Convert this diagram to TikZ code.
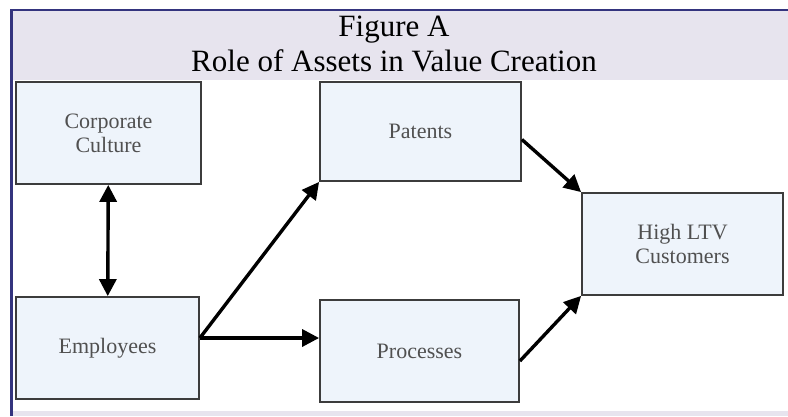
\documentclass[tikz,border=0pt]{standalone}
\usepackage{fontspec}
\setmainfont{Liberation Serif}
\usetikzlibrary{arrows.meta}
\definecolor{band}{HTML}{E7E4EE}
\definecolor{frame}{HTML}{34347E}
\definecolor{boxfill}{HTML}{EEF4FB}
\definecolor{boxline}{HTML}{3C3C3C}
\definecolor{boxtext}{HTML}{505050}
\begin{document}
\begin{tikzpicture}[x=1pt, y=-1pt,
    box/.style={draw=boxline, line width=1.8pt, fill=boxfill, text=boxtext,
                align=center, minimum height=102pt, inner sep=0pt,
                font=\fontsize{22}{24}\selectfont},
    link/.style={line width=3.4pt, -{Triangle[length=17pt,width=17pt]}}]
    \useasboundingbox (0,0) rectangle (788,416);
    % header band and frame
    \fill[band] (12,11) rectangle (788,80);
    \fill[band] (12,411) rectangle (788,416);
    \draw[frame, line width=2pt] (10,10) -- (788,10);
    \draw[frame, line width=3pt] (11,9) -- (11,416);
    \node[anchor=base, font=\fontsize{31}{35}\selectfont] (title) at (394,36) {Figure A};
    \node[anchor=base, font=\fontsize{31}{35}\selectfont] (subtitle) at (394,71) {Role of Assets in Value Creation};
    % boxes
    \node[box, minimum width=185pt] (culture) at (108.5,133) {Corporate\\Culture};
    \node[box, minimum width=183pt] (emp) at (107.5,348) {\raisebox{5pt}{Employees}};
    \node[box, minimum width=201pt, minimum height=99pt] (pat) at (420.5,131.5) {Patents};
    \node[box, minimum width=199pt] (proc) at (419.5,351) {Processes};
    \node[box, minimum width=201pt] (ltv) at (682.5,244) {High LTV\\Customers};
    % arrows
    \draw[link, {Triangle[length=17pt,width=17pt]}-{Triangle[length=17pt,width=17pt]}] (culture) -- (emp);
    \coordinate (eout) at ([yshift=10pt]emp.east);
    \draw[link] (eout) -- (pat.south west);
    \draw[link] (eout) -- (eout -| proc.west);
    \draw[link] ([yshift=-8pt]pat.east) -- (ltv.north west);
    \draw[link] ([yshift=-10pt]proc.east) -- (ltv.south west);
\end{tikzpicture}
\end{document}
